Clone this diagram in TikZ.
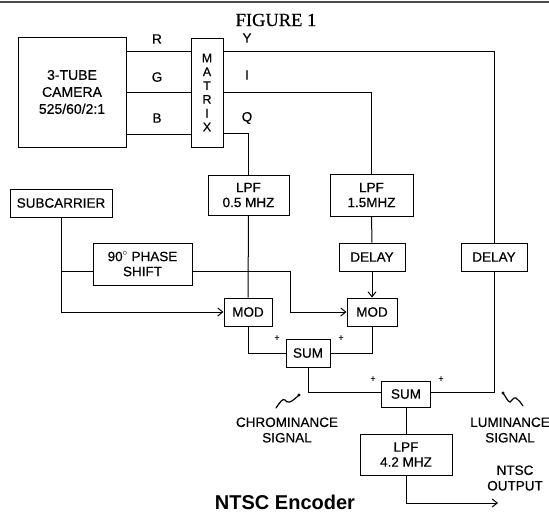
\documentclass[tikz,border=0pt]{standalone}
\usepackage{fontspec}
\setmainfont{Liberation Sans}[FakeBold=0.5]
\newfontfamily\figserif{Liberation Serif}[FakeBold=0.4]
\newfontfamily\capfont{Liberation Sans Bold}
\usetikzlibrary{arrows.meta}
\tikzset{
  blk/.style={draw, line width=1pt, inner sep=0pt, align=center, font=\fontsize{13.5}{15}\selectfont},
  wire/.style={line width=1pt},
  arr/.style={line width=1pt, -{Straight Barb[length=5pt,width=8pt,line width=1pt]}},
  lbl/.style={inner sep=0pt, font=\fontsize{13.5}{15.5}\selectfont, align=center},
  plus/.style={inner sep=0pt, font=\fontsize{9}{9}\selectfont},
}
\begin{document}
\begin{tikzpicture}[x=1pt,y=-1pt]
\useasboundingbox (0,0) rectangle (549,512);
% top rule
\draw[line width=2pt, black!70] (0,2) -- (549,2);
\node[inner sep=0pt, font=\figserif\fontsize{18.5}{20}\selectfont] (title) at (276,20) {FIGURE 1};

% blocks
\node[blk, minimum width=108pt, minimum height=110pt, font=\fontsize{14}{17}\selectfont] (camera) at (72,92) {3-TUBE\\CAMERA\\525/60/2:1};
\node[blk, minimum width=32pt, minimum height=109pt, font=\fontsize{12.5}{13.8}\selectfont] (matrix) at (207,92.5) {M\\A\\T\\R\\I\\X};
\node[blk, minimum width=81pt, minimum height=40pt] (lpfA) at (248.5,195) {LPF\\0.5 MHZ};
\node[blk, minimum width=83pt, minimum height=42pt] (lpfB) at (371.5,195) {LPF\\1.5MHZ};
\node[blk, minimum width=102pt, minimum height=28pt] (subc) at (61,203) {SUBCARRIER};
\node[blk, minimum width=99pt, minimum height=42pt] (phase) at (142.5,264) {90$^{\circ}$ PHASE\\SHIFT};
\node[blk, minimum width=66pt, minimum height=28pt] (delayA) at (372,257) {DELAY};
\node[blk, minimum width=66pt, minimum height=28pt] (delayB) at (494,257) {DELAY};
\node[blk, minimum width=48pt, minimum height=28pt] (modA) at (248,312) {MOD};
\node[blk, minimum width=50pt, minimum height=28pt] (modB) at (372,312) {MOD};
\node[blk, minimum width=44pt, minimum height=28pt] (sumA) at (308,353) {SUM};
\node[blk, minimum width=49pt, minimum height=26pt] (sumB) at (406,394) {SUM};
\node[blk, minimum width=92pt, minimum height=41pt] (lpfC) at (406,454.5) {LPF\\4.2 MHZ};

% helper coordinates
\coordinate (yR) at (0,51);
\coordinate (yG) at (0,92);
\coordinate (yB) at (0,134);
\coordinate (yQ) at (0,133);
\coordinate (yP) at (0,271);
\coordinate (t1) at (290,271);
\coordinate (yS) at (0,392);
\coordinate (out) at (498,503);

% camera to matrix
\draw[wire] (camera.east |- yR) -- (matrix.west |- yR);
\draw[wire] (camera.east |- yG) -- (matrix.west |- yG);
\draw[wire] (camera.east |- yB) -- (matrix.west |- yB);
\node[lbl] (lR) at (157,39) {R};
\node[lbl] (lG) at (157,77) {G};
\node[lbl] (lB) at (157,118) {B};

% matrix outputs
\draw[wire] (matrix.east |- yR) -| (delayB.north);
\draw[wire] (matrix.east |- yG) -| (lpfB.north);
\draw[wire] (matrix.east |- yQ) -| (lpfA.north);
\node[lbl] (lY) at (247,38) {Y};
\node[lbl] (lI) at (247,75) {I};
\node[lbl] (lQ) at (247,118) {Q};

% chroma path
\draw[wire] (lpfB.south) -- (delayA.north);
\draw[arr] (delayA.south) -- (modB.north);
\draw[wire] (lpfA.south) -- (modA.north);
\draw[arr] (subc.south) |- (modA.west);
\draw[wire] (subc.south |- yP) -- (phase.west |- yP);
\draw[arr] (phase.east |- yP) -- (t1) |- (modB.west);

\draw[wire] (modA.south) |- (sumA.west);
\draw[wire] (modB.south) |- (sumA.east);
\node[plus] (p1) at (277,338) {+};
\node[plus] (p2) at (341,338) {+};

\draw[wire] (sumA.south) |- (sumB.west |- yS);
\draw[wire] (delayB.south) |- (sumB.east |- yS);
\node[plus] (p3) at (373,379) {+};
\node[plus] (p4) at (441,379) {+};

\draw[wire] (sumB.south) -- (lpfC.north);
\draw[arr] (lpfC.south) |- (out);

% squiggles
\draw[line width=1.2pt, line cap=round] (276,408) .. controls (280,402) and (283,398) .. (285,400) .. controls (287,403) and (290,404) .. (299,395);
\fill (299,395) circle (1.6pt);
\fill (503,393) circle (1.6pt);
\draw[line width=1.2pt, line cap=round] (503,393) .. controls (506,397) and (508,402) .. (510,402) .. controls (512,401) and (513,397) .. (516,398) .. controls (519,400) and (521,403) .. (523,406);

% labels
\node[lbl] (chroma) at (287,430) {CHROMINANCE\\SIGNAL};
\node[lbl] (luma) at (510,430) {LUMINANCE\\SIGNAL};
\node[lbl] (ntscout) at (515,478) {NTSC\\OUTPUT};
\node[inner sep=0pt, font=\capfont\fontsize{20}{22}\selectfont] (cap) at (285,502) {NTSC Encoder};
\end{tikzpicture}
\end{document}
